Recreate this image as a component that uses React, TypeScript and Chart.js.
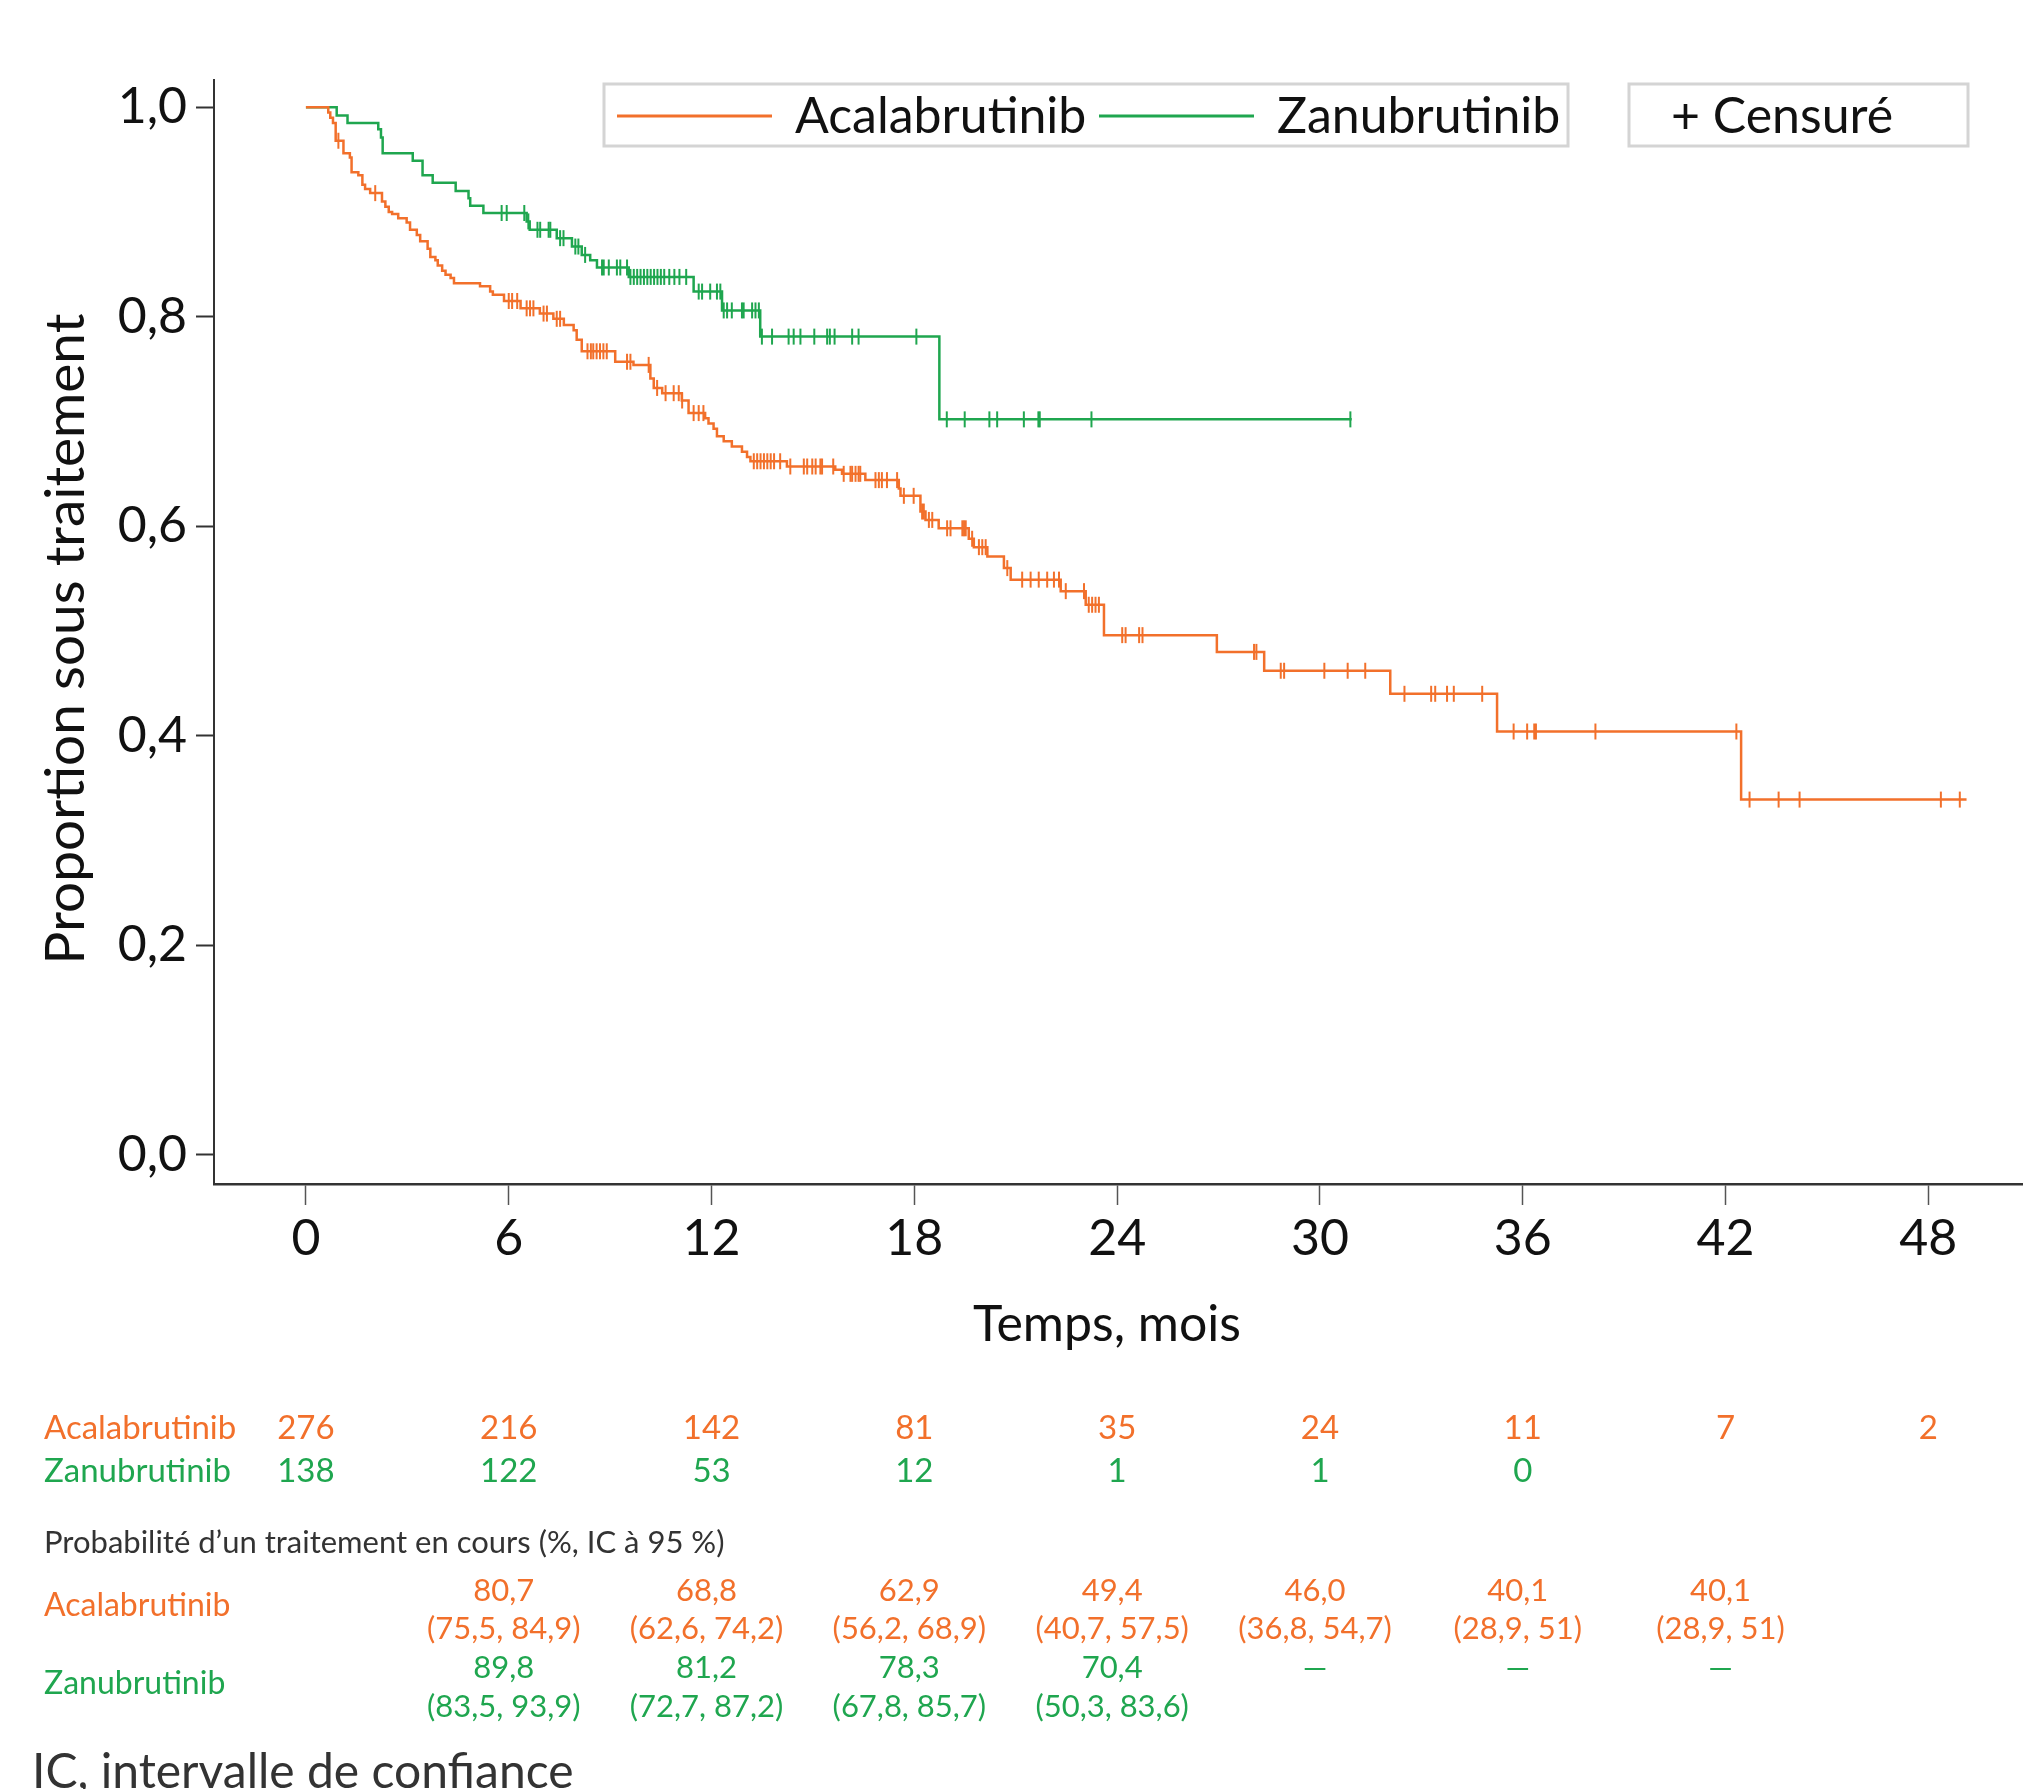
import React, { useEffect, useRef } from 'react';
import { Chart, registerables } from 'chart.js';

Chart.register(...registerables);

const ORANGE = '#F2702B';
const GREEN = '#1FA64F';
const TEXT = '#111111';
const FONT = 'Lato';

// Axis ticks
const xTicks = [0, 6, 12, 18, 24, 30, 36, 42, 48];
const yTicks = [0, 0.2, 0.4, 0.6, 0.8, 1.0];

// Acalabrutinib: event times (months) and survival after each event
const acalaTimes = [0, 0.66, 0.72, 0.8, 0.88, 1.11, 1.3, 1.35, 1.55, 1.67, 1.75, 1.9, 2.25, 2.35, 2.45, 2.55, 2.73, 2.98, 3.08, 3.28, 3.38, 3.6, 3.68, 3.83, 3.9, 4.03, 4.13, 4.28, 4.38, 5.15, 5.45, 5.53, 5.86, 6.35, 6.92, 7.32, 7.63, 7.92, 8.01, 8.16, 9.15, 9.69, 10.19, 10.29, 10.54, 11.12, 11.32, 11.81, 11.91, 12.06, 12.16, 12.36, 12.6, 12.9, 13.05, 13.15, 14.23, 15.66, 15.86, 16.55, 17.54, 17.59, 18.18, 18.33, 18.72, 19.61, 19.76, 20.16, 20.65, 20.85, 22.33, 23.07, 23.61, 26.95, 28.35, 32.08, 35.24, 42.46];
const acalaSurv = [1.0, 0.995, 0.99, 0.985, 0.968, 0.956, 0.952, 0.938, 0.935, 0.926, 0.922, 0.918, 0.91, 0.905, 0.9, 0.898, 0.894, 0.89, 0.883, 0.878, 0.872, 0.865, 0.857, 0.854, 0.849, 0.844, 0.84, 0.837, 0.832, 0.829, 0.824, 0.821, 0.815, 0.808, 0.803, 0.798, 0.792, 0.787, 0.778, 0.767, 0.757, 0.754, 0.741, 0.732, 0.727, 0.72, 0.708, 0.703, 0.698, 0.693, 0.686, 0.681, 0.676, 0.671, 0.666, 0.662, 0.657, 0.654, 0.65, 0.644, 0.636, 0.629, 0.614, 0.606, 0.598, 0.588, 0.58, 0.571, 0.56, 0.549, 0.538, 0.525, 0.496, 0.48, 0.462, 0.44, 0.404, 0.339];
const acalaEnd = 49.13;
const acalaCensor = [0.96, 2.05, 6.0, 6.1, 6.25, 6.53, 6.63, 6.73, 7.03, 7.13, 7.42, 7.52, 8.33, 8.43, 8.5, 8.6, 8.7, 8.8, 8.9, 9.5, 9.6, 10.14, 10.39, 10.64, 10.88, 11.03, 11.13, 11.47, 11.62, 11.76, 13.25, 13.35, 13.45, 13.55, 13.65, 13.75, 13.85, 14.03, 14.33, 14.73, 14.83, 14.98, 15.08, 15.22, 15.27, 15.6, 15.91, 16.11, 16.16, 16.26, 16.35, 16.4, 16.85, 16.95, 17.04, 17.19, 17.49, 17.69, 17.98, 18.23, 18.28, 18.43, 18.53, 18.97, 19.07, 19.42, 19.47, 19.52, 19.71, 19.91, 20.01, 20.11, 20.75, 21.19, 21.44, 21.68, 21.93, 22.13, 22.28, 22.48, 23.02, 23.16, 23.26, 23.36, 23.46, 24.15, 24.25, 24.65, 24.75, 28.05, 28.12, 28.84, 28.94, 30.13, 30.82, 31.34, 32.5, 33.29, 33.41, 33.76, 33.96, 34.8, 35.73, 36.13, 36.34, 36.39, 38.15, 42.32, 42.71, 43.57, 44.19, 48.37, 48.93];

// Zanubrutinib
const zanuTimes = [0, 0.91, 1.23, 2.14, 2.22, 2.27, 3.16, 3.45, 3.75, 4.43, 4.81, 4.86, 5.25, 6.53, 6.62, 7.42, 7.87, 8.16, 8.41, 8.61, 9.55, 11.47, 12.31, 13.44, 18.74];
const zanuSurv = [1.0, 0.992, 0.985, 0.979, 0.971, 0.956, 0.949, 0.935, 0.928, 0.92, 0.913, 0.906, 0.899, 0.891, 0.883, 0.875, 0.867, 0.859, 0.854, 0.847, 0.838, 0.824, 0.806, 0.781, 0.702];
const zanuEnd = 30.94;
const zanuCensor = [5.79, 5.94, 6.46, 6.58, 6.85, 6.93, 7.18, 7.23, 7.52, 7.62, 7.97, 8.06, 8.26, 8.76, 8.81, 8.96, 9.2, 9.3, 9.5, 9.6, 9.7, 9.8, 9.9, 10.0, 10.1, 10.2, 10.3, 10.4, 10.5, 10.6, 10.75, 10.9, 11.05, 11.25, 11.62, 11.72, 11.96, 12.16, 12.26, 12.36, 12.46, 12.6, 12.9, 12.95, 13.2, 13.3, 13.4, 13.49, 13.79, 14.28, 14.43, 14.63, 15.04, 15.42, 15.5, 15.64, 16.16, 16.35, 18.06, 18.96, 19.49, 20.22, 20.45, 21.24, 21.67, 21.71, 23.24, 30.9];

// Numbers at risk
const riskMonths = [0, 6, 12, 18, 24, 30, 36, 42, 48];
const riskAcala = ['276', '216', '142', '81', '35', '24', '11', '7', '2'];
const riskZanu = ['138', '122', '53', '12', '1', '1', '0'];

// Probability of ongoing treatment
const probMonths = [6, 12, 18, 24, 30, 36, 42];
const probAcalaVal = ['80,7', '68,8', '62,9', '49,4', '46,0', '40,1', '40,1'];
const probAcalaCI = ['(75,5, 84,9)', '(62,6, 74,2)', '(56,2, 68,9)', '(40,7, 57,5)', '(36,8, 54,7)', '(28,9, 51)', '(28,9, 51)'];
const probZanuVal = ['89,8', '81,2', '78,3', '70,4', '—', '—', '—'];
const probZanuCI = ['(83,5, 93,9)', '(72,7, 87,2)', '(67,8, 85,7)', '(50,3, 83,6)'];

const seriesNames = ['Acalabrutinib', 'Zanubrutinib'];

function survAt(times: number[], surv: number[], t: number): number {
  let v = surv[0];
  for (let i = 0; i < times.length; i++) {
    if (times[i] <= t) v = surv[i];
    else break;
  }
  return v;
}

function curve(times: number[], surv: number[], end: number) {
  const pts = times.map((t, i) => ({ x: t, y: surv[i] }));
  pts.push({ x: end, y: surv[surv.length - 1] });
  return pts;
}

function censors(times: number[], surv: number[], cens: number[]) {
  return cens.map((t) => ({ x: t, y: survAt(times, surv, t) }));
}

const overlayPlugin = {
  id: 'overlay',
  afterDraw(chart: any) {
    const ctx = chart.ctx as CanvasRenderingContext2D;
    const xs = chart.scales.x;
    ctx.save();

    // Y title
    ctx.fillStyle = TEXT;
    ctx.font = `55px ${FONT}`;
    ctx.textAlign = 'center';
    ctx.textBaseline = 'middle';
    ctx.save();
    ctx.translate(66, 639);
    ctx.rotate(-Math.PI / 2);
    ctx.fillText('Proportion sous traitement', 0, 0);
    ctx.restore();

    // X title
    ctx.font = `50px ${FONT}`;
    ctx.fillText('Temps, mois', 1107, 1325);

    // Legend boxes
    ctx.strokeStyle = '#d4d4d4';
    ctx.lineWidth = 3;
    ctx.strokeRect(604, 84, 964, 62);
    ctx.strokeRect(1629, 84, 339, 62);
    ctx.lineWidth = 3;
    ctx.strokeStyle = ORANGE;
    ctx.beginPath();
    ctx.moveTo(617, 116);
    ctx.lineTo(772, 116);
    ctx.stroke();
    ctx.strokeStyle = GREEN;
    ctx.beginPath();
    ctx.moveTo(1099, 116);
    ctx.lineTo(1254, 116);
    ctx.stroke();
    ctx.fillStyle = TEXT;
    ctx.font = `50px ${FONT}`;
    ctx.textAlign = 'left';
    ctx.textBaseline = 'alphabetic';
    ctx.fillText(seriesNames[0], 795, 133);
    ctx.fillText(seriesNames[1], 1277, 133);
    ctx.fillText('+ Censuré', 1671, 133);

    // Numbers at risk
    ctx.textBaseline = 'middle';
    ctx.font = `33px ${FONT}`;
    ctx.textAlign = 'left';
    ctx.fillStyle = ORANGE;
    ctx.fillText(seriesNames[0], 44, 1428);
    ctx.fillStyle = GREEN;
    ctx.fillText(seriesNames[1], 44, 1471);
    ctx.textAlign = 'center';
    riskAcala.forEach((s, i) => {
      ctx.fillStyle = ORANGE;
      ctx.fillText(s, xs.getPixelForValue(riskMonths[i]), 1428);
    });
    riskZanu.forEach((s, i) => {
      ctx.fillStyle = GREEN;
      ctx.fillText(s, xs.getPixelForValue(riskMonths[i]), 1471);
    });

    // Probability table
    ctx.textAlign = 'left';
    ctx.fillStyle = '#333333';
    ctx.font = `31px ${FONT}`;
    ctx.fillText('Probabilité d’un traitement en cours (%, IC à 95 %)', 44, 1543);
    ctx.font = `32px ${FONT}`;
    ctx.fillStyle = ORANGE;
    ctx.fillText(seriesNames[0], 44, 1606);
    ctx.fillStyle = GREEN;
    ctx.fillText(seriesNames[1], 44, 1684);
    ctx.font = `31px ${FONT}`;
    ctx.textAlign = 'center';
    probMonths.forEach((m, i) => {
      const px = xs.getPixelForValue(m) - 5;
      ctx.fillStyle = ORANGE;
      ctx.fillText(probAcalaVal[i], px, 1591);
      ctx.fillText(probAcalaCI[i], px, 1629);
      ctx.fillStyle = GREEN;
      ctx.fillText(probZanuVal[i], px, 1668);
      if (probZanuCI[i]) ctx.fillText(probZanuCI[i], px, 1707);
    });

    // Footnote
    ctx.textAlign = 'left';
    ctx.textBaseline = 'alphabetic';
    ctx.fillStyle = '#333333';
    ctx.font = `48px ${FONT}`;
    ctx.fillText('IC, intervalle de confiance', 32, 1788);

    ctx.restore();
  },
};

export default function App() {
  const ref = useRef<HTMLCanvasElement | null>(null);

  useEffect(() => {
    document.body.style.margin = '0';
    const canvas = ref.current;
    if (!canvas) return;
    const chart = new Chart(canvas, {
      type: 'line',
      data: {
        datasets: [
          {
            label: seriesNames[0],
            data: curve(acalaTimes, acalaSurv, acalaEnd),
            borderColor: ORANGE,
            borderWidth: 2.5,
            pointRadius: 0,
            stepped: 'before',
            fill: false,
          },
          {
            label: seriesNames[1],
            data: curve(zanuTimes, zanuSurv, zanuEnd),
            borderColor: GREEN,
            borderWidth: 2.5,
            pointRadius: 0,
            stepped: 'before',
            fill: false,
          },
          {
            label: 'Censuré A',
            data: censors(acalaTimes, acalaSurv, acalaCensor),
            showLine: false,
            pointStyle: 'line',
            rotation: 90,
            pointRadius: 8,
            pointBorderWidth: 2,
            borderColor: ORANGE,
            pointBorderColor: ORANGE,
          } as any,
          {
            label: 'Censuré Z',
            data: censors(zanuTimes, zanuSurv, zanuCensor),
            showLine: false,
            pointStyle: 'line',
            rotation: 90,
            pointRadius: 8,
            pointBorderWidth: 2,
            borderColor: GREEN,
            pointBorderColor: GREEN,
          } as any,
        ],
      },
      options: {
        responsive: false,
        animation: false,
        devicePixelRatio: 1,
        layout: { autoPadding: false, padding: { top: 80, left: 0, right: 0, bottom: 0 } },
        plugins: {
          legend: { display: false },
          tooltip: { enabled: false },
        },
        scales: {
          x: {
            type: 'linear',
            min: -2.72,
            max: 50.8,
            afterBuildTicks: (scale: any) => {
              scale.ticks = xTicks.map((v) => ({ value: v }));
            },
            afterFit: (scale: any) => {
              scale.height = 605;
              scale.paddingLeft = 0;
              scale.paddingRight = 0;
            },
            grid: {
              display: true,
              drawOnChartArea: false,
              drawTicks: true,
              tickLength: 21,
              tickColor: '#555555',
              tickWidth: 1.5,
            },
            border: { display: true, color: '#333333', width: 2.5 },
            ticks: {
              font: { family: FONT, size: 50 },
              color: TEXT,
              padding: 4,
              maxRotation: 0,
              autoSkip: false,
              callback: (v: any) => String(v),
            },
          },
          y: {
            type: 'linear',
            min: -0.028,
            max: 1.026,
            afterBuildTicks: (scale: any) => {
              scale.ticks = yTicks.map((v) => ({ value: v }));
            },
            afterFit: (scale: any) => {
              scale.width = 214;
              scale.paddingTop = 0;
              scale.paddingBottom = 0;
            },
            grid: {
              display: true,
              drawOnChartArea: false,
              drawTicks: true,
              tickLength: 18,
              tickColor: '#333333',
              tickWidth: 2,
            },
            border: { display: true, color: '#333333', width: 2 },
            ticks: {
              font: { family: FONT, size: 50 },
              color: TEXT,
              padding: 9,
              autoSkip: false,
              callback: (v: any) => Number(v).toFixed(1).replace('.', ','),
            },
          },
        },
      },
      plugins: [overlayPlugin],
    });
    return () => chart.destroy();
  }, []);

  return (
    <div style={{ position: 'absolute', left: 0, top: 0, width: 2023, height: 1789, overflow: 'hidden', background: '#ffffff' }}>
      <canvas ref={ref} width={2023} height={1789} style={{ width: 2023, height: 1789, display: 'block' }} />
    </div>
  );
}
